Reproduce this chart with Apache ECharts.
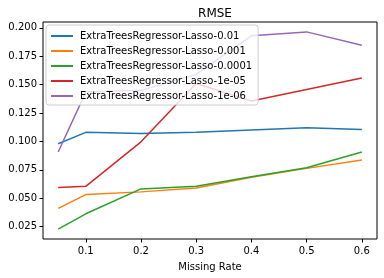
<!DOCTYPE html>
<html>
<head>
<meta charset="utf-8">
<script src="https://cdn.jsdelivr.net/npm/echarts@6/dist/echarts.min.js"></script>
<style>html,body{margin:0;padding:0;background:#fff;}#c{width:384px;height:278px;}</style>
</head>
<body>
<div id="c"></div>
<script>
const missingRate = [0.05, 0.1, 0.2, 0.3, 0.4, 0.5, 0.6];
const seriesNames = [
  'ExtraTreesRegressor-Lasso-0.01',
  'ExtraTreesRegressor-Lasso-0.001',
  'ExtraTreesRegressor-Lasso-0.0001',
  'ExtraTreesRegressor-Lasso-1e-05',
  'ExtraTreesRegressor-Lasso-1e-06'
];
const lasso001 = [0.098, 0.108, 0.107, 0.108, 0.110, 0.112, 0.1105];
const lasso0001 = [0.041, 0.0532, 0.0556, 0.0591, 0.0684, 0.0763, 0.0837];
const lasso00001 = [0.0228, 0.0363, 0.0582, 0.0605, 0.069, 0.0769, 0.0907];
const lasso1e05 = [0.0594, 0.0605, 0.0997, 0.151, 0.1357, 0.1458, 0.1559];
const lasso1e06 = [0.0907, 0.1435, 0.145, 0.159, 0.193, 0.1965, 0.1848];
const xTicks = [0.1, 0.2, 0.3, 0.4, 0.5, 0.6];
const yTicks = [0.025, 0.05, 0.075, 0.1, 0.125, 0.15, 0.175, 0.2];

const colors = ['#1f77b4', '#ff7f0e', '#2ca02c', '#d62728', '#9467bd'];
const values = [lasso001, lasso0001, lasso00001, lasso1e05, lasso1e06];
const font = 'DejaVu Sans';

const chart = echarts.init(document.getElementById('c'), null, {renderer: 'canvas'});
chart.setOption({
  animation: false,
  backgroundColor: '#fff',
  title: {
    text: 'RMSE', left: 210, top: 3, textAlign: 'center',
    textStyle: {fontFamily: font, fontSize: 12, fontWeight: 'normal', color: '#000'}
  },
  grid: {left: 43, right: 7, top: 22, bottom: 39, show: true, borderColor: '#000', borderWidth: 1, backgroundColor: 'transparent'},
  legend: {
    orient: 'vertical', left: 46, top: 25,
    padding: [5, 6, 3, 5], itemGap: 3, itemWidth: 22, itemHeight: 2,
    icon: 'rect',
    backgroundColor: 'rgba(255,255,255,0.8)', borderColor: '#cccccc', borderWidth: 1, borderRadius: 3,
    textStyle: {fontFamily: font, fontSize: 10, color: '#000', lineHeight: 12, padding: [0, 0, 0, 2]},
    data: seriesNames
  },
  xAxis: {
    type: 'value', min: 0.0225, max: 0.6275,
    name: 'Missing Rate', nameLocation: 'middle', nameGap: 23,
    nameTextStyle: {fontFamily: font, fontSize: 10, color: '#000'},
    axisLine: {show: false},
    splitLine: {show: false},
    axisTick: {show: true, inside: false, length: 3.5, lineStyle: {color: '#000'}, customValues: xTicks},
    axisLabel: {fontFamily: font, fontSize: 10, color: '#000', margin: 7, customValues: xTicks,
      formatter: v => String(Math.round(v * 10) / 10)}
  },
  yAxis: {
    type: 'value', min: 0.0141, max: 0.2052,
    axisLine: {show: false},
    splitLine: {show: false},
    axisTick: {show: true, inside: false, length: 3.5, lineStyle: {color: '#000'}, customValues: yTicks},
    axisLabel: {fontFamily: font, fontSize: 10, color: '#000', margin: 6, customValues: yTicks,
      formatter: v => v.toFixed(3)}
  },
  series: seriesNames.map((n, i) => ({
    name: n, type: 'line', showSymbol: false, symbol: 'none',
    lineStyle: {width: 1.5, color: colors[i]}, itemStyle: {color: colors[i]},
    data: missingRate.map((x, j) => [x, values[i][j]])
  }))
});
</script>
</body>
</html>
